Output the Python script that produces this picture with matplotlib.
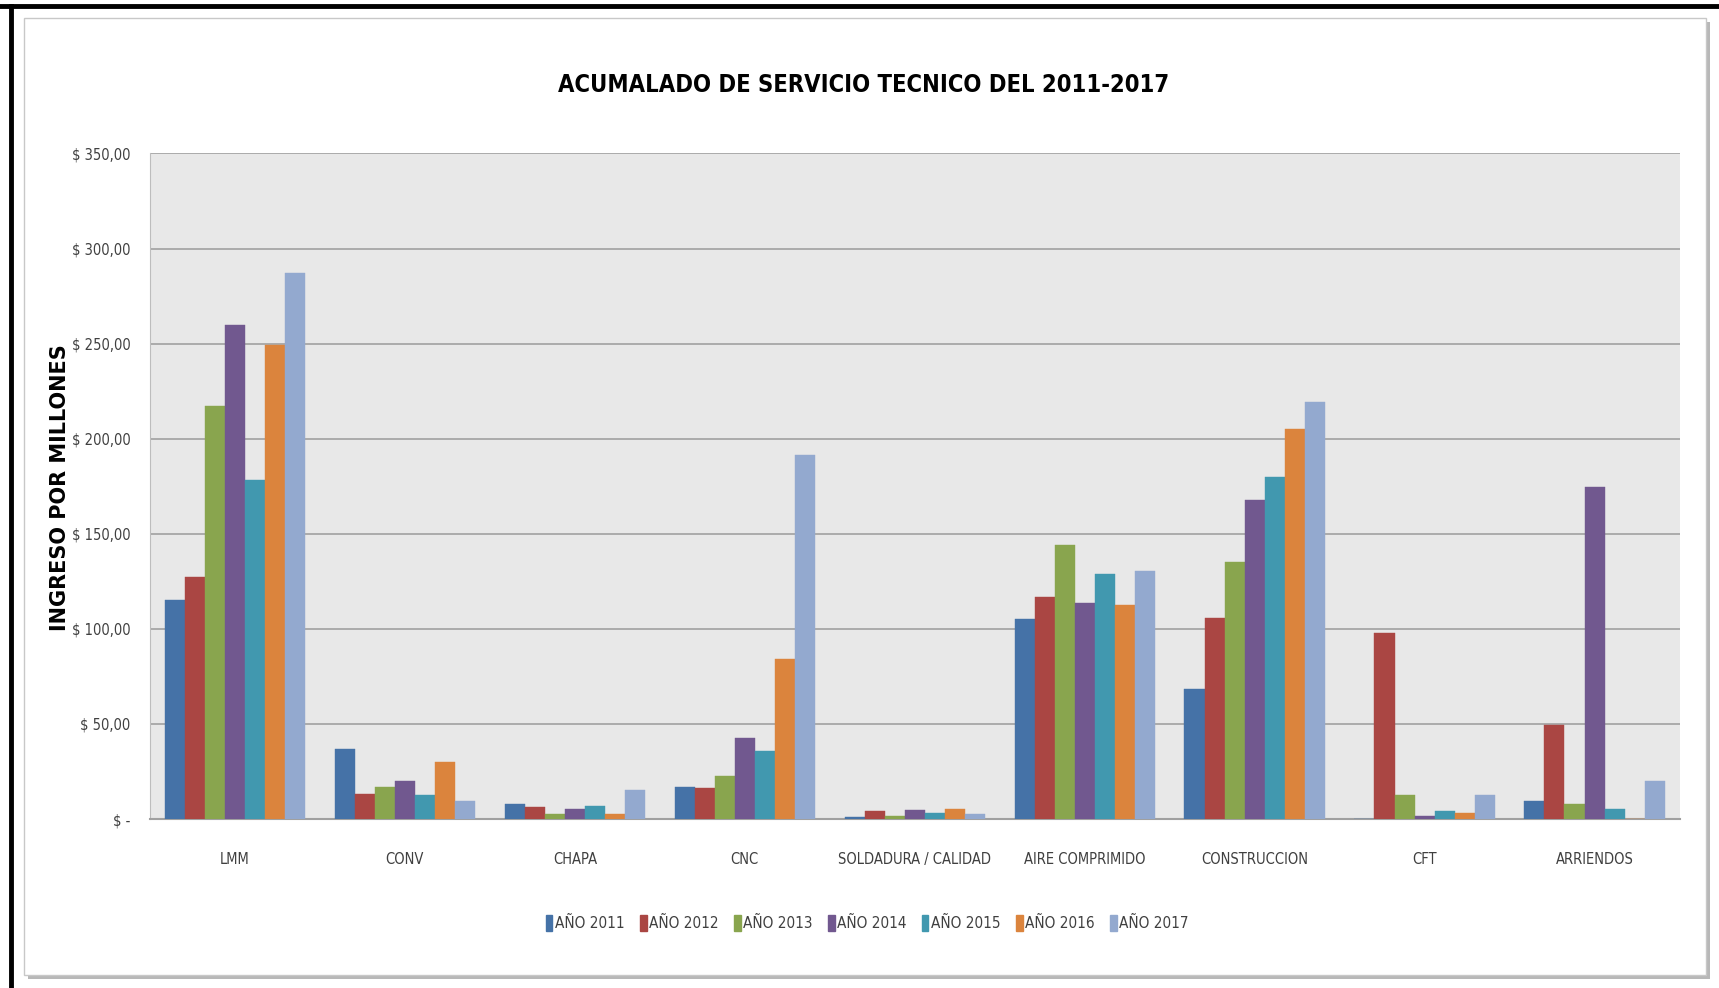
import matplotlib
matplotlib.use("Agg")
import matplotlib.pyplot as plt
import numpy as np
from matplotlib import font_manager
from matplotlib.font_manager import FontProperties
from matplotlib.patches import Rectangle, Patch
from matplotlib.lines import Line2D

categorias = ["LMM", "CONV", "CHAPA", "CNC", "SOLDADURA / CALIDAD",
              "AIRE COMPRIMIDO", "CONSTRUCCION", "CFT", "ARRIENDOS"]
anios = ["AÑO 2011", "AÑO 2012", "AÑO 2013", "AÑO 2014", "AÑO 2015", "AÑO 2016", "AÑO 2017"]

anio_2011 = [115.0, 36.9, 7.9, 17.0, 1.0, 105.0, 68.6, 0.0, 9.3]
anio_2012 = [127.5, 13.3, 6.3, 16.1, 4.0, 117.0, 105.5, 98.0, 49.6]
anio_2013 = [217.4, 17.0, 2.5, 22.4, 1.8, 144.0, 135.0, 12.4, 7.7]
anio_2014 = [259.6, 20.1, 5.4, 42.7, 4.9, 113.6, 167.8, 1.8, 174.7]
anio_2015 = [178.4, 12.4, 7.0, 35.7, 3.3, 128.6, 180.0, 4.0, 5.4]
anio_2016 = [249.2, 30.0, 2.5, 84.2, 5.4, 112.4, 205.3, 3.3, 0.0]
anio_2017 = [287.0, 9.3, 15.4, 191.4, 2.5, 130.3, 219.1, 12.4, 20.0]
series = [anio_2011, anio_2012, anio_2013, anio_2014, anio_2015, anio_2016, anio_2017]

colores = ["#4572A7", "#AA4643", "#89A54E", "#71588F", "#4198AF", "#DB843D", "#93A9CF"]

yticks = [0, 50, 100, 150, 200, 250, 300, 350]
ytick_labels = ["$ -", "$ 50,00", "$ 100,00", "$ 150,00", "$ 200,00", "$ 250,00", "$ 300,00", "$ 350,00"]


def buscar_fuente(bold):
    # look for an installed condensed / narrow face
    cands = []
    for f in font_manager.fontManager.ttflist:
        fn = f.fname.lower()
        if ("condensed" in fn or "narrow" in fn) and "light" not in fn and "italic" not in fn \
                and "oblique" not in fn and "thin" not in fn and "extra" not in fn and "semi" not in fn \
                and "medium" not in fn and "black" not in fn:
            es_bold = "bold" in fn
            if es_bold == bold:
                cands.append(f.fname)
    cands.sort()
    if cands:
        return FontProperties(fname=cands[0])
    return FontProperties(family="DejaVu Sans", weight="bold" if bold else "normal")


fp_reg = buscar_fuente(False)
fp_bold = buscar_fuente(True)

W, H = 1719, 988
fig = plt.figure(figsize=(W / 100, H / 100), dpi=100)
fig.patch.set_facecolor("white")

# black border of the screenshot (top and left)
fig.add_artist(Line2D([0, 1], [1 - 6 / H, 1 - 6 / H], color="black", lw=3.5, transform=fig.transFigure))
fig.add_artist(Line2D([11 / W, 11 / W], [0, 1 - 6 / H], color="black", lw=3.5, transform=fig.transFigure))

# chart panel with shadow
px, py, pw, ph = 24, 18, 1682, 957
fig.add_artist(Rectangle(((px + 4) / W, 1 - (py + ph + 4) / H), pw / W, ph / H,
                         transform=fig.transFigure, facecolor="#b8b8b8", edgecolor="none", zorder=0))
fig.add_artist(Rectangle((px / W, 1 - (py + ph) / H), pw / W, ph / H,
                         transform=fig.transFigure, facecolor="white", edgecolor="#c8c8c8", lw=1, zorder=0))

ax = fig.add_axes([150 / W, 1 - 819 / H, (1679.5 - 150) / W, (819 - 153.5) / H])
ax.set_facecolor("#e8e8e8")
ax.set_zorder(2)

x = np.arange(len(categorias))
ancho = 0.118
for j, (vals, col) in enumerate(zip(series, colores)):
    ax.bar(x + (j - 3) * ancho, vals, ancho, color=col, edgecolor=col, lw=0.3, zorder=3)

ax.set_xlim(-0.5, len(categorias) - 0.5)
ax.set_ylim(0, 350)
ax.set_yticks(yticks)
ax.set_yticklabels(ytick_labels, fontproperties=fp_reg, fontsize=10.5, color="#404040")
ax.set_xticks(x)
ax.set_xticklabels(categorias, fontproperties=fp_reg, fontsize=10.5, color="#404040")
ax.tick_params(axis="x", length=0, pad=24)
ax.tick_params(axis="y", length=0, pad=14)
ax.yaxis.grid(True, color="#a6a6a6", lw=1.3, zorder=1)
ax.set_axisbelow(True)
for s in ["top", "right"]:
    ax.spines[s].set_visible(False)
ax.spines["left"].set_color("#bdbdbd")
ax.spines["bottom"].set_color("#a0a0a0")
ax.spines["bottom"].set_linewidth(1.5)

ax.set_ylabel("INGRESO POR MILLONES", fontsize=15, fontweight="bold", family="DejaVu Sans",
              color="black")
ax.yaxis.set_label_coords(-80 / (1679.5 - 150), (819 - 488) / (819 - 153.5))

fig.text(0.5026, 1 - 85 / H, "ACUMALADO DE SERVICIO TECNICO DEL 2011-2017", ha="center", va="center",
         fontproperties=fp_bold, fontsize=17, color="black")

handles = [Patch(facecolor=c, edgecolor=c) for c in colores]
fp_leg = fp_reg.copy()
fp_leg.set_size(11)
leg = fig.legend(handles, anios, loc="center", bbox_to_anchor=(867 / W, 1 - 923 / H), ncol=7,
                 frameon=False, handlelength=0.45, handleheight=1.3, handletextpad=0.15,
                 columnspacing=1.0, prop=fp_leg)
for t in leg.get_texts():
    t.set_color("#404040")

fig.savefig("out.png", dpi=100)
